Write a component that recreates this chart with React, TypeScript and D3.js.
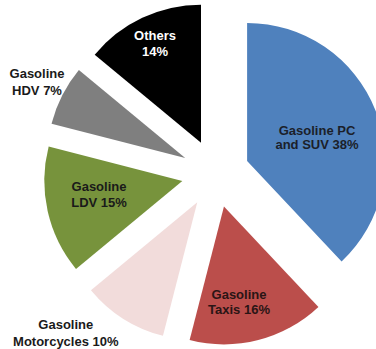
import React from "react";
import * as d3 from "d3";

const categories = [
  "Gasoline PC and SUV",
  "Gasoline Taxis",
  "Gasoline Motorcycles",
  "Gasoline LDV",
  "Gasoline HDV",
  "Others",
];
const shares = [38, 16, 10, 15, 7, 14];
const labelLines = [
  ["Gasoline PC", "and SUV 38%"],
  ["Gasoline", "Taxis 16%"],
  ["Gasoline", "Motorcycles 10%"],
  ["Gasoline", "LDV 15%"],
  ["Gasoline", "HDV 7%"],
  ["Others", "14%"],
];
const colors = ["#4F81BD", "#BB4E4B", "#F2DCDB", "#77933C", "#7F7F7F", "#000000"];
const textColors = ["#1b1f2a", "#2a1515", "#1a1a1a", "#1a1a1a", "#1a1a1a", "#ffffff"];

// label anchors (first-line baseline) relative to the pie centre, and line spacing
const labelPos: [number, number, number][] = [
  [101.5, -39, 14.5],
  [23.5, 125.3, 15],
  [-149.7, 155.3, 17.5],
  [-116.5, 17.7, 16],
  [-178.5, -95.7, 17.5],
  [-60.5, -134, 16],
];

const W = 376;
const H = 349;
const cx = 215.5;
const cy = 173.5;
const radius = 138;
const explode = 34;

export default function App() {
  const pie = d3
    .pie<number>()
    .sort(null)
    .value((d) => d)
    .startAngle(0)
    .endAngle(2 * Math.PI);
  const arcs = pie(shares);
  const arc = d3.arc<d3.PieArcDatum<number>>().innerRadius(0).outerRadius(radius);

  return (
    <svg
      width={W}
      height={H}
      style={{ position: "absolute", left: 0, top: 0, background: "#fff" }}
      fontFamily="'Liberation Sans', Arial, sans-serif"
      fontWeight="bold"
      fontSize={13}
    >
      <g transform={`translate(${cx},${cy})`}>
        {arcs.map((a, i) => {
          const mid = (a.startAngle + a.endAngle) / 2;
          const dx = Math.sin(mid) * explode;
          const dy = -Math.cos(mid) * explode;
          return (
            <path
              key={categories[i]}
              d={arc(a) || ""}
              transform={`translate(${dx},${dy})`}
              fill={colors[i]}
            />
          );
        })}
        {arcs.map((a, i) => {
          const [lx, ly, lh] = labelPos[i];
          return (
            <text
              key={"l" + i}
              x={lx}
              y={ly}
              textAnchor="middle"
              fill={textColors[i]}
            >
              {labelLines[i].map((t, j) => (
                <tspan key={j} x={lx} y={ly + j * lh}>
                  {t}
                </tspan>
              ))}
            </text>
          );
        })}
      </g>
    </svg>
  );
}
